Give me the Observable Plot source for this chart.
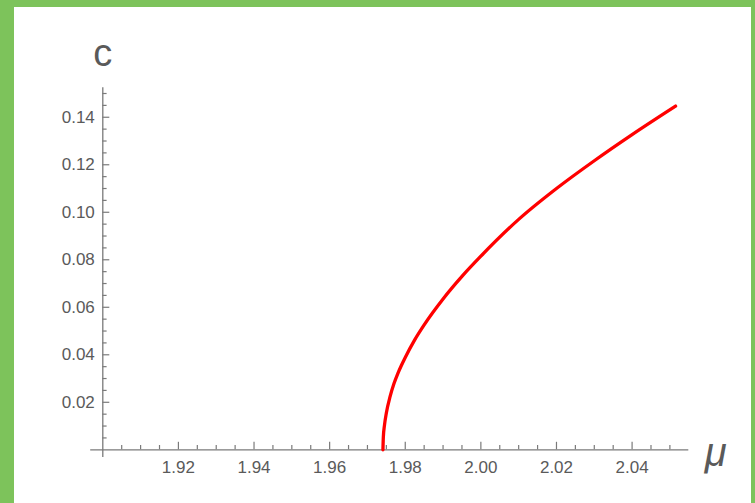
<!DOCTYPE html>
<html>
<head>
<meta charset="utf-8">
<script src="https://cdn.jsdelivr.net/npm/d3@7"></script>
<script src="https://cdn.jsdelivr.net/npm/@observablehq/plot@0.6"></script>
<style>
  html, body { margin: 0; padding: 0; background: #7dc35b; }
  #frame { width: 755px; height: 503px; background: #7dc35b; position: relative; overflow: hidden; }
  #chart { position: absolute; left: 14px; top: 7px; width: 737px; height: 496px; background: #ffffff; }
  #chart svg { display: block; }
</style>
</head>
<body>
<div id="frame"><div id="chart"></div></div>
<script>
// Curve c(μ)
const muValues = [1.9741, 1.9742, 1.9745, 1.9750, 1.9760, 1.9770, 1.9780, 1.9790, 1.9800, 1.9825, 1.9850,
                  1.9900, 1.9950, 2.0000, 2.0100, 2.0200, 2.0300, 2.0400, 2.0515];
const cValues  = [0.0000, 0.0052, 0.0103, 0.0155, 0.0225, 0.0278, 0.0320, 0.0356, 0.0389, 0.0463, 0.0526,
                  0.0635, 0.0730, 0.0815, 0.0970, 0.1100, 0.1217, 0.1327, 0.1447];

// Axis ticks
const xMajorTicks = [1.92, 1.94, 1.96, 1.98, 2.00, 2.02, 2.04];
const xTickLabels = ["1.92", "1.94", "1.96", "1.98", "2.00", "2.02", "2.04"];
const xMinorTicks = [1.905, 1.91, 1.915, 1.925, 1.93, 1.935, 1.945, 1.95, 1.955, 1.965, 1.97, 1.975,
                     1.985, 1.99, 1.995, 2.005, 2.01, 2.015, 2.025, 2.03, 2.035, 2.045, 2.05];
const yMajorTicks = [0.02, 0.04, 0.06, 0.08, 0.10, 0.12, 0.14];
const yTickLabels = ["0.02", "0.04", "0.06", "0.08", "0.10", "0.12", "0.14"];
const yMinorTicks = [0.005, 0.01, 0.015, 0.025, 0.03, 0.035, 0.045, 0.05, 0.055, 0.065, 0.07, 0.075,
                     0.085, 0.09, 0.095, 0.105, 0.11, 0.115, 0.125, 0.13, 0.135, 0.145, 0.15];
const xLabel = "μ";
const yLabel = "c";

const xDomain = [1.90, 2.055];
const yDomain = [0, 0.1524];

const curve = muValues.map((m, i) => ({mu: m, c: cValues[i]}));
const xTicks = xMajorTicks.map((v, i) => ({v, label: xTickLabels[i]}));
const yTicks = yMajorTicks.map((v, i) => ({v, label: yTickLabels[i]}));

const axisColor = "#7a7a7a";
const textColor = "#5a5a5a";

const chart = Plot.plot({
  width: 737,
  height: 496,
  marginLeft: 88.3,
  marginRight: 62.7,
  marginTop: 80.3,
  marginBottom: 53.7,
  x: {domain: xDomain, axis: null},
  y: {domain: yDomain, axis: null},
  style: {background: "white", fontFamily: "'Liberation Sans', Arial, sans-serif", overflow: "visible"},
  marks: [
    // axis lines
    Plot.ruleY([0], {x1: 1.8968, x2: xDomain[1], stroke: axisColor, strokeWidth: 1.3}),
    Plot.ruleX([xDomain[0]], {y1: -0.0032, y2: yDomain[1], stroke: axisColor, strokeWidth: 1.3}),
    // x ticks
    Plot.ruleX(xMajorTicks, {x: d => d, y1: 0, y2: 0, insetTop: -7.5, stroke: axisColor, strokeWidth: 1.2}),
    Plot.ruleX(xMinorTicks, {x: d => d, y1: 0, y2: 0, insetTop: -4.3, stroke: axisColor, strokeWidth: 1.2}),
    // y ticks
    Plot.ruleY(yMajorTicks, {y: d => d, x1: xDomain[0], x2: xDomain[0], insetRight: -7, stroke: axisColor, strokeWidth: 1.2}),
    Plot.ruleY(yMinorTicks, {y: d => d, x1: xDomain[0], x2: xDomain[0], insetRight: -4.3, stroke: axisColor, strokeWidth: 1.2}),
    // tick labels
    Plot.text(xTicks, {x: "v", text: "label", frameAnchor: "bottom", dy: 17.7, fontSize: 17, fill: textColor, textAnchor: "middle", lineAnchor: "middle"}),
    Plot.text(yTicks, {y: "v", text: "label", frameAnchor: "left", dx: -8, fontSize: 17, fill: textColor, textAnchor: "end", lineAnchor: "middle"}),
    // axis labels
    Plot.text([yLabel], {x: () => xDomain[0], text: d => d, frameAnchor: "top", dy: -34, fontSize: 38, fill: textColor, textAnchor: "middle", lineAnchor: "middle"}),
    Plot.text([xLabel], {x: () => xDomain[1], text: d => d, frameAnchor: "bottom", dx: 27, dy: 3, fontSize: 40, fontStyle: "italic", fill: textColor, textAnchor: "middle", lineAnchor: "middle"}),
    // curve
    Plot.line(curve, {x: "mu", y: "c", stroke: "#ff0000", strokeWidth: 3.3, curve: "monotone-x"})
  ]
});
document.getElementById("chart").appendChild(chart);
</script>
</body>
</html>
